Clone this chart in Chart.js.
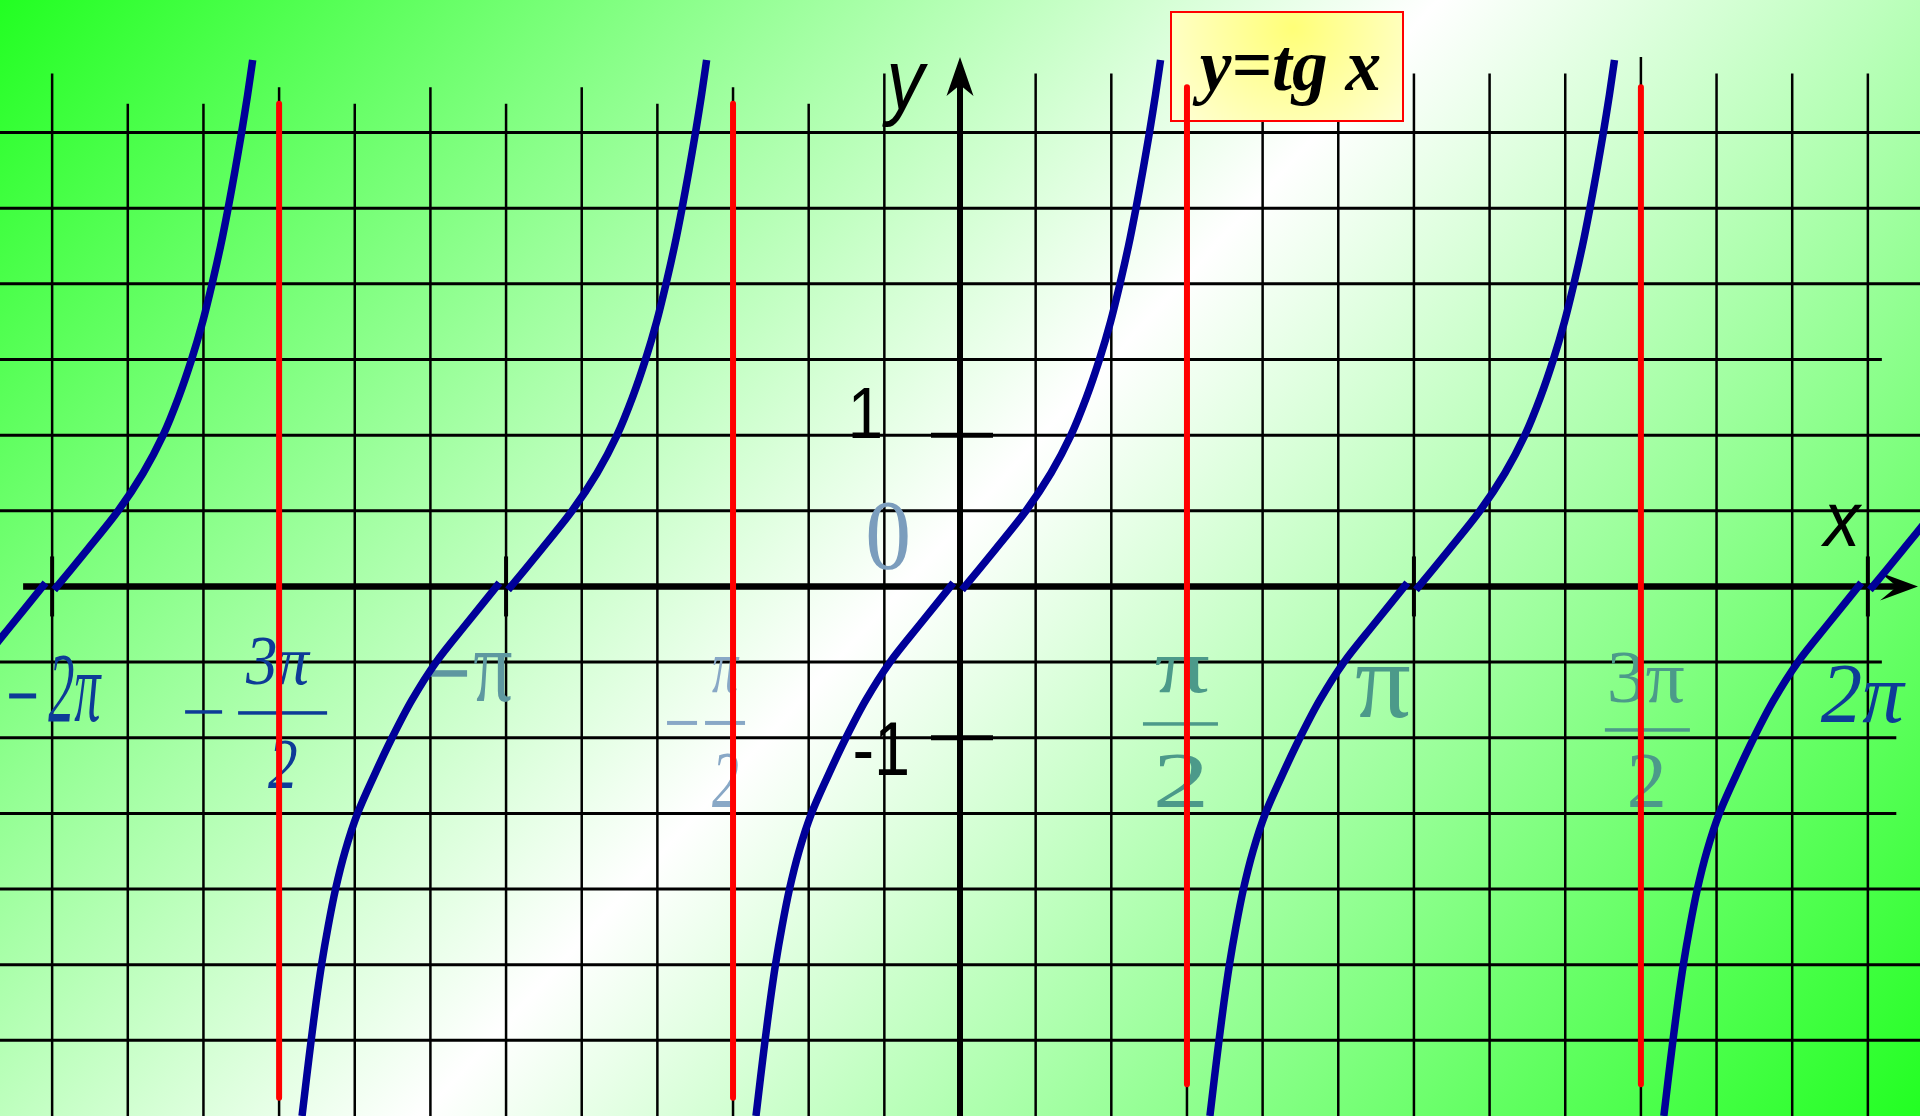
<!DOCTYPE html>
<html>
<head>
<meta charset="utf-8">
<title>y = tg x</title>
<script src="https://cdn.jsdelivr.net/npm/chart.js@4.4.1/dist/chart.umd.min.js"></script>
<style>
  html, body { margin: 0; padding: 0; overflow: hidden; background: #fff; }
  #wrap { width: 1920px; height: 1116px; position: relative; }
</style>
</head>
<body>
<div id="wrap"><canvas id="chart"></canvas></div>
<script>
const PI = Math.PI;

// zeros of tg x (centre of every branch) and the asymptotes
const branchCentres = [-2 * PI, -PI, 0, PI, 2 * PI];
const asymptotes = [-3 * PI / 2, -PI / 2, PI / 2, 3 * PI / 2];
const asymptoteTop = [3.19, 3.19, 3.30, 3.30];
const asymptoteBottom = [-3.38, -3.38, -3.29, -3.29];

// one branch: offset from the centre (rad) -> value
// (drawn as two halves, they meet with a small step on the x axis)
const lowerDx = [-1.412, -1.381, -1.349, -1.315, -1.277, -1.232, -1.180, -1.114, -1.028, -0.913, -0.789, -0.651, -0.484, -0.277, -0.046];
const lowerY  = [-3.5, -3.25, -3.0, -2.75, -2.5, -2.25, -2.0, -1.75, -1.5, -1.25, -1.0, -0.75, -0.5, -0.25, 0.023];
const upperDx = [0.014, 0.249, 0.457, 0.630, 0.768, 0.875, 0.965, 1.042, 1.107, 1.166, 1.218, 1.266, 1.311, 1.353, 1.388];
const upperY  = [-0.023, 0.25, 0.5, 0.75, 1.0, 1.25, 1.5, 1.75, 2.0, 2.25, 2.5, 2.75, 3.0, 3.25, 3.48];

// tick labels
const xTickValues = [-2 * PI, -3 * PI / 2, -PI, -PI / 2, PI / 2, PI, 3 * PI / 2, 2 * PI];
const xTickLabels = ['−2π', '−3π/2', '−π', '−π/2', 'π/2', 'π', '3π/2', '2π'];
const xTickMarks = [-2 * PI, -PI, PI, 2 * PI];
const yTickValues = [1, -1];
const yTickLabels = ['1', '-1'];

// ---- layout / style ----
const SERIF = '"Liberation Serif", "Times New Roman", serif';
const SANS = '"Liberation Sans", Arial, sans-serif';
const DARK_BLUE = '#0d3b97';
const labelColours = [DARK_BLUE, DARK_BLUE, '#5e98a0', '#88a8c6', '#4c9a8a', '#4c9a8a', '#4c9a8a', DARK_BLUE];
const labelItalic = [true, true, false, true, false, false, false, true];
// boxes relative to the tick (dx) and to the x axis (dy): text [dx0,dx1,dy0,dy1], rules [dx0,dx1,dy,h]
const labelBoxes = [
  { minus: [-43, -16, 109.5, 5], num: [-4, 50, 68.5, 135.5] },
  { minus: [-94, -57, 125.5, 3.5], num: [-34, 32, 51.5, 98.5], bar: [-41, 48, 126.5, 3.5], den: [-11, 18, 153.5, 201.5] },
  { minus: [-78, -39, 87, 6.5], num: [-32, 6, 66.5, 115.5] },
  { minus: [-66, -36, 136.5, 4], num: [-21, 7, 70.5, 106.5], bar: [-28, 12, 136.5, 4], den: [-21, 5, 166.5, 220.5] },
  { num: [-31, 22, 70.5, 106.5], bar: [-44, 31, 137.5, 3.5], den: [-30, 17, 168.5, 220.5] },
  { num: [-58, -4, 80.5, 131.5] },
  { num: [-31, 43, 65.5, 116.5], bar: [-36, 49, 143.5, 3.5], den: [-11, 22, 168.5, 220.5] },
  { num: [-47, 38, 80.5, 136.5] }
];
const yLabelBoxes = [[-108, -80, -46.7, 3.3], [-105, -53, -16, 37]];

// grid: vertical lines every pi/6, their tops differ a little (in y units)
const vGridTop = [3.39, 3.19, 3.19, 3.30, 3.19, 3.30, 3.19, 3.30, 3.19, 3.30, 3.19, 3.39, 3.9,
                  3.39, 3.39, 3.30, 3.39, 3.39, 3.39, 3.39, 3.39, 3.50, 3.39, 3.39, 3.39];
const hGridValues = [3, 2.5, 2, 1.5, 1, 0.5, -0.5, -1, -1.5, -2, -2.5, -3];
const hGridRight  = [9, 9, 9, 6.38, 9, 9, 6.38, 6.48, 6.48, 9, 9, 9];

function fitText(ctx, text, box, style, family, colour) {
  const [x0, x1, top, bottom] = box;
  ctx.save();
  ctx.font = `${style} 100px ${family}`;
  let m = ctx.measureText(text);
  const size = 100 * (bottom - top) / (m.actualBoundingBoxAscent + m.actualBoundingBoxDescent);
  ctx.font = `${style} ${size}px ${family}`;
  m = ctx.measureText(text);
  const sx = (x1 - x0) / (m.actualBoundingBoxLeft + m.actualBoundingBoxRight);
  ctx.translate(x0 + m.actualBoundingBoxLeft * sx, bottom - m.actualBoundingBoxDescent);
  ctx.scale(sx, 1);
  ctx.fillStyle = colour;
  ctx.textAlign = 'left';
  ctx.textBaseline = 'alphabetic';
  ctx.fillText(text, 0, 0);
  ctx.restore();
}

const backgroundPlugin = {
  id: 'background',
  beforeDraw(chart) {
    const { ctx, width, height } = chart;
    const g = ctx.createLinearGradient(0, 0, 1604, 1462);
    g.addColorStop(0, '#22ff22');
    g.addColorStop(0.49, '#ffffff');
    g.addColorStop(1, '#22ff22');
    ctx.save();
    ctx.fillStyle = g;
    ctx.fillRect(0, 0, width, height);
    ctx.restore();
  }
};

const decorPlugin = {
  id: 'decor',
  beforeDatasetsDraw(chart) {
    const { ctx, chartArea: a, scales: { x, y } } = chart;
    const ox = x.getPixelForValue(0);
    const oy = y.getPixelForValue(0);
    ctx.save();

    // grid
    ctx.strokeStyle = '#000';
    ctx.lineWidth = 2.5;
    for (let k = -12; k <= 12; k++) {
      if (k === 0) continue;
      const px = x.getPixelForValue(k * PI / 6);
      ctx.beginPath();
      ctx.moveTo(px, y.getPixelForValue(vGridTop[k + 12]));
      ctx.lineTo(px, a.bottom);
      ctx.stroke();
    }
    ctx.lineWidth = 3;
    hGridValues.forEach((v, i) => {
      const py = y.getPixelForValue(v);
      ctx.beginPath();
      ctx.moveTo(a.left, py);
      ctx.lineTo(Math.min(a.right, x.getPixelForValue(hGridRight[i])), py);
      ctx.stroke();
    });

    // x tick labels
    xTickLabels.forEach((lab, i) => {
      const tx = x.getPixelForValue(xTickValues[i]);
      const b = labelBoxes[i];
      const col = labelColours[i];
      const style = labelItalic[i] ? 'italic' : 'normal';
      const body = lab.startsWith('−') ? lab.slice(1) : lab;
      const [num, den] = body.split('/');
      ctx.fillStyle = col;
      ['minus', 'bar'].forEach(key => {
        if (!b[key]) return;
        const [d0, d1, dy, h] = b[key];
        ctx.fillRect(tx + d0, oy + dy - h / 2, d1 - d0, h);
      });
      fitText(ctx, num, [tx + b.num[0], tx + b.num[1], oy + b.num[2], oy + b.num[3]], style, SERIF, col);
      if (den) fitText(ctx, den, [tx + b.den[0], tx + b.den[1], oy + b.den[2], oy + b.den[3]], style, SERIF, col);
    });

    // y tick labels and origin
    yTickLabels.forEach((lab, i) => {
      const ty = y.getPixelForValue(yTickValues[i]);
      const b = yLabelBoxes[i];
      fitText(ctx, lab, [ox + b[0], ox + b[1], ty + b[2], ty + b[3]], 'normal', SANS, '#000');
    });
    fitText(ctx, '0', [ox - 92, ox - 52, oy - 83.5, oy - 16.5], 'normal', SERIF, '#7b9dbd');

    // axes
    ctx.fillStyle = '#000';
    ctx.strokeStyle = '#000';
    ctx.lineWidth = 6.5;
    ctx.beginPath();
    ctx.moveTo(x.getPixelForValue(-6.484), oy);
    ctx.lineTo(1900, oy);
    ctx.stroke();
    ctx.beginPath();
    ctx.moveTo(1918, oy);
    ctx.lineTo(1880, oy - 14);
    ctx.lineTo(1897, oy);
    ctx.lineTo(1880, oy + 14);
    ctx.closePath();
    ctx.fill();

    ctx.lineWidth = 6;
    ctx.beginPath();
    ctx.moveTo(ox, a.bottom);
    ctx.lineTo(ox, 82);
    ctx.stroke();
    ctx.beginPath();
    ctx.moveTo(ox, 57);
    ctx.lineTo(ox - 13.5, 96);
    ctx.lineTo(ox, 85);
    ctx.lineTo(ox + 13.5, 96);
    ctx.closePath();
    ctx.fill();

    // tick marks
    ctx.lineWidth = 4;
    xTickMarks.forEach(v => {
      const px = x.getPixelForValue(v);
      ctx.beginPath();
      ctx.moveTo(px, oy - 30);
      ctx.lineTo(px, oy + 30);
      ctx.stroke();
    });
    ctx.lineWidth = 5;
    yTickValues.forEach(v => {
      const py = y.getPixelForValue(v);
      ctx.beginPath();
      ctx.moveTo(ox - 29, py);
      ctx.lineTo(ox + 33, py);
      ctx.stroke();
    });

    // axis names
    fitText(ctx, 'y', [882, 928, 64, 127], 'italic', SANS, '#000');
    fitText(ctx, 'x', [1820, 1863, 504, 546], 'italic', SANS, '#000');

    // title box
    const rg = ctx.createRadialGradient(1293, 28, 0, 1293, 28, 170);
    rg.addColorStop(0, '#ffff78');
    rg.addColorStop(1, '#ffffe2');
    ctx.fillStyle = rg;
    ctx.fillRect(1171, 12, 232, 109);
    ctx.strokeStyle = '#ff0000';
    ctx.lineWidth = 2;
    ctx.strokeRect(1171, 12, 232, 109);
    fitText(ctx, 'y=tg x', [1192, 1380, 48, 106], 'italic bold', SERIF, '#000');

    ctx.restore();
  }
};

const datasets = [];
branchCentres.forEach(c => {
  datasets.push({
    data: lowerDx.map((d, i) => ({ x: c + d, y: lowerY[i] })),
    borderColor: '#000099', borderWidth: 7.5, order: 0
  });
  datasets.push({
    data: upperDx.map((d, i) => ({ x: c + d, y: upperY[i] })),
    borderColor: '#000099', borderWidth: 7.5, order: 0
  });
});
asymptotes.forEach((v, i) => {
  datasets.push({
    data: [{ x: v, y: asymptoteTop[i] }, { x: v, y: asymptoteBottom[i] }],
    borderColor: '#ff0000', borderWidth: 6, order: 1, tension: 0
  });
});

new Chart(document.getElementById('chart'), {
  type: 'line',
  data: { datasets },
  options: {
    responsive: true,
    maintainAspectRatio: false,
    devicePixelRatio: 1,
    animation: false,
    layout: { padding: 0 },
    elements: {
      point: { radius: 0, hoverRadius: 0 },
      line: { tension: 0.3, borderCapStyle: 'butt', borderJoinStyle: 'round', fill: false }
    },
    plugins: { legend: { display: false }, tooltip: { enabled: false } },
    scales: {
      x: { type: 'linear', min: -6.644, max: 6.644, display: false },
      y: { type: 'linear', min: -3.5, max: 3.876, display: false }
    }
  },
  plugins: [backgroundPlugin, decorPlugin]
});
</script>
</body>
</html>
